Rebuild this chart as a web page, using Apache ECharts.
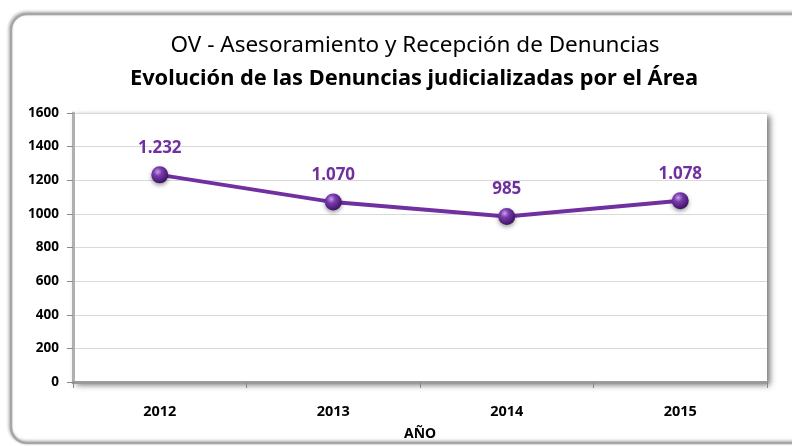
<!DOCTYPE html>
<html>
<head>
<meta charset="utf-8">
<script src="https://cdn.jsdelivr.net/npm/echarts@6/dist/echarts.min.js"></script>
<style>
  html, body { margin: 0; padding: 0; background: #fff; }
  #chart { width: 792px; height: 446px; }
</style>
</head>
<body>
<div id="chart"></div>
<script>
// datos
var anios = ['2012', '2013', '2014', '2015'];
var denuncias = [1232, 1070, 985, 1078];
var ejeY = { min: 0, max: 1600, interval: 200 };

var morado = '#7030A0';

// formato con punto de miles: 1.232
function miles(v) {
    return String(v).replace(/\B(?=(\d{3})+(?!\d))/g, '.');
}

var chart = echarts.init(document.getElementById('chart'));

var option = {
    backgroundColor: '#fff',
    textStyle: { fontFamily: 'Noto Sans' },
    // marco exterior redondeado
    graphic: [{
        type: 'rect',
        shape: { x: 11, y: 14, width: 800, height: 429, r: 16 },
        style: { fill: 'none', stroke: '#a6a6a6', lineWidth: 2.5,
                 shadowBlur: 3, shadowColor: 'rgba(0,0,0,0.35)', shadowOffsetX: -1, shadowOffsetY: -1 },
        z: -1
    }],
    title: [{
        text: 'OV - Asesoramiento y Recepción de Denuncias',
        left: 410,
        textAlign: 'center',
        top: 29,
        textStyle: { fontFamily: 'Noto Sans', fontSize: 22.5, fontWeight: 'normal', color: '#000' }
    }, {
        text: 'Evolución de las Denuncias judicializadas por el Área',
        left: 409,
        textAlign: 'center',
        top: 63,
        textStyle: { fontFamily: 'Noto Sans', fontSize: 21.8, fontWeight: 'bold', color: '#000' }
    }],
    grid: {
        left: 73, right: 25, top: 113, bottom: 64,
        show: true,
        backgroundColor: '#fff',
        borderWidth: 0,
        shadowColor: 'rgba(0,0,0,0.55)',
        shadowBlur: 6,
        shadowOffsetX: 3,
        shadowOffsetY: 3
    },
    xAxis: {
        type: 'category',
        data: anios,
        boundaryGap: true,
        name: 'AÑO',
        nameLocation: 'middle',
        nameGap: 45,
        nameTextStyle: { fontWeight: 'bold', fontSize: 14, color: '#000' },
        axisLine: { lineStyle: { color: '#9a9a9a', width: 3 } },
        axisTick: { show: true, length: 6, lineStyle: { color: '#888', width: 1 } },
        axisLabel: { fontWeight: 'bold', fontSize: 14.5, color: '#000', margin: 22 }
    },
    yAxis: {
        type: 'value',
        min: ejeY.min,
        max: ejeY.max,
        interval: ejeY.interval,
        axisLine: { show: true, lineStyle: { color: '#b0b0b0', width: 3 } },
        axisTick: { show: true, length: 6, lineStyle: { color: '#888', width: 1 } },
        axisLabel: { fontWeight: 'bold', fontSize: 13.5, color: '#000', margin: 14,
                     formatter: function (v) { return String(v); } },
        splitLine: { lineStyle: { color: '#d9d9d9', width: 1 } }
    },
    series: [{
        name: 'Denuncias',
        type: 'line',
        data: denuncias,
        symbol: 'circle',
        symbolSize: 17,
        lineStyle: { color: morado, width: 4 },
        itemStyle: {
            color: {
                type: 'radial', x: 0.38, y: 0.32, r: 0.7,
                colorStops: [
                    { offset: 0, color: '#c9a3e6' },
                    { offset: 0.35, color: '#7a3bb0' },
                    { offset: 1, color: '#3b1260' }
                ]
            },
            borderWidth: 0,
            shadowColor: 'rgba(0,0,0,0.4)',
            shadowBlur: 4,
            shadowOffsetY: 2
        },
        label: {
            show: true,
            position: 'top',
            distance: 10,
            color: morado,
            fontWeight: 'bold',
            fontSize: 17,
            formatter: function (p) { return miles(p.value); }
        }
    }]
};

chart.setOption(option);
</script>
</body>
</html>
